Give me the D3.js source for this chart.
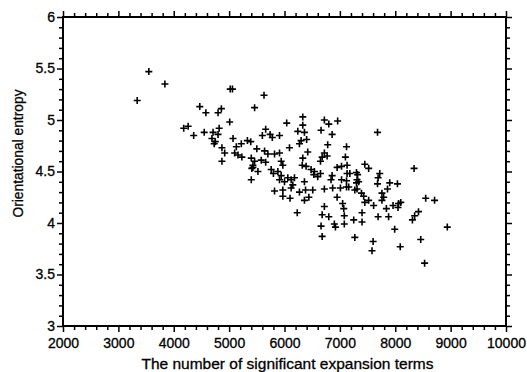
<!DOCTYPE html>
<html>
<head>
<meta charset="utf-8">
<script src="https://cdn.jsdelivr.net/npm/d3@7"></script>
<style>
  body { margin: 0; background: #fff; }
  svg { display: block; }
  text { font-family: "Liberation Sans", Arial, Helvetica, sans-serif; fill: #000; stroke: #000; stroke-width: 0.3px; }
</style>
</head>
<body>
<svg id="chart" width="527" height="372"></svg>
<script>
// Number of significant expansion terms for each sample
const expansionTerms = [
  3550, 3840, 3340, 5020, 5060, 4470, 4580, 4860, 4800, 5010, 5460, 4180, 4260, 4360, 4550, 4820,
  4710, 4800, 4690, 4750, 4730, 5070, 4870, 4920, 4870, 5130, 5220, 5330, 5100, 5160, 5230, 5400,
  5430, 5410, 5400, 5630,
  6330, 6330, 6040, 6720, 6800, 6960, 6860, 6660, 5660, 5600, 5740, 5780, 5910, 6240, 6360, 6300,
  6270, 6400, 5390, 6780, 6090, 6420, 5500, 5640, 5700, 5820, 5910, 7120, 7100, 6720, 6680, 6770,
  6650, 5460, 5580, 5660, 5940, 5970, 6330, 6320, 6390, 6480, 6540, 6650, 5430, 5520, 5760, 5800,
  5880, 5940, 5910, 6000, 6060, 6120, 6180, 6150, 6120, 6360, 6530, 6600, 6860, 6840, 6950, 7030,
  7130, 7130, 7030, 7120, 5820, 5970, 5970, 6100, 6270, 6380, 6510, 6440, 6360, 6720, 6870, 7010,
  7120, 6950, 7050, 7070, 6230, 6720, 6680, 6800, 6900, 6920, 7080, 7080, 6660, 6680,
  7680, 7180, 7300, 7320, 7310, 7340, 7300, 7160, 7270, 7310, 7450, 7520, 7720, 7690, 7680, 7900,
  8040, 7860, 7390, 7430, 7760, 7790, 7760, 7450, 7520, 7610, 7840, 7960, 8060, 8100, 8050, 7400,
  7400, 7250, 7690, 7880, 7270, 7600, 7580, 7990, 8090, 8340, 8550, 8710, 8420, 8350, 8310, 8460,
  8530, 8940
];

// Orientational entropy of the same samples
const orientationalEntropy = [
  5.47, 5.35, 5.19, 5.30, 5.30, 5.13, 5.07, 5.11, 5.07, 4.98, 5.12, 4.92, 4.94, 4.85, 4.88, 4.92,
  4.88, 4.86, 4.82, 4.79, 4.77, 4.82, 4.73, 4.68, 4.60, 4.74, 4.77, 4.80, 4.68, 4.66, 4.64, 4.63,
  4.56, 4.53, 4.42, 5.24,
  5.03, 4.95, 4.97, 5.00, 4.96, 4.99, 4.86, 4.90, 4.91, 4.85, 4.86, 4.83, 4.85, 4.89, 4.88, 4.80,
  4.77, 4.81, 4.79, 4.76, 4.73, 4.69, 4.72, 4.70, 4.67, 4.67, 4.68, 4.74, 4.64, 4.68, 4.64, 4.65,
  4.60, 4.60, 4.61, 4.59, 4.60, 4.56, 4.63, 4.56, 4.55, 4.52, 4.50, 4.48, 4.54, 4.50, 4.52, 4.48,
  4.50, 4.46, 4.42, 4.40, 4.44, 4.42, 4.44, 4.37, 4.34, 4.40, 4.47, 4.45, 4.46, 4.42, 4.54, 4.55,
  4.56, 4.48, 4.42, 4.41, 4.31, 4.32, 4.26, 4.24, 4.30, 4.32, 4.32, 4.25, 4.22, 4.33, 4.34, 4.34,
  4.35, 4.25, 4.19, 4.14, 4.10, 4.16, 4.08, 4.06, 3.99, 3.96, 4.07, 3.99, 3.97, 3.87,
  4.88, 4.48, 4.49, 4.47, 4.42, 4.40, 4.39, 4.35, 4.32, 4.33, 4.57, 4.53, 4.48, 4.44, 4.38, 4.39,
  4.38, 4.33, 4.29, 4.26, 4.29, 4.25, 4.22, 4.20, 4.22, 4.17, 4.14, 4.17, 4.19, 4.20, 4.15, 4.10,
  4.01, 4.03, 4.06, 4.06, 3.86, 3.82, 3.73, 3.94, 3.77, 4.53, 4.24, 4.22, 4.11, 4.07, 4.03, 3.84,
  3.61, 3.96
];

const xTickValues = [2000, 3000, 4000, 5000, 6000, 7000, 8000, 9000, 10000];
const yTickValues = [3, 3.5, 4, 4.5, 5, 5.5, 6];
const xMinorStep = 200;
const yMinorStep = 0.1;
const xTitle = "The number of significant expansion terms";
const yTitle = "Orientational entropy";

const svg = d3.select("#chart");
const plot = { left: 63, right: 506, top: 17, bottom: 326 };

const x = d3.scaleLinear().domain([2000, 10000]).range([plot.left, plot.right]);
const y = d3.scaleLinear().domain([3, 6]).range([plot.bottom, plot.top]);

const xMinor = d3.range(2000, 10000 + 1e-6, xMinorStep).filter(v => v % 1000 !== 0);
const yMinor = d3.range(3, 6 + 1e-6, yMinorStep)
  .map(v => Math.round(v * 10) / 10)
  .filter(v => Math.abs(v * 2 - Math.round(v * 2)) > 1e-6);

const majorLen = 6, minorLen = 4;

function styleAxis(g) {
  g.select(".domain").remove();
  g.selectAll(".tick line").attr("stroke", "#000").attr("stroke-width", 1.5);
  g.selectAll(".tick text").attr("font-size", 14).attr("fill", "#000");
}

// bottom axis: labelled majors + minors
svg.append("g").attr("transform", `translate(0,${plot.bottom})`)
  .call(d3.axisBottom(x).tickValues(xMinor).tickSize(minorLen).tickFormat(""))
  .call(styleAxis);
svg.append("g").attr("transform", `translate(0,${plot.bottom})`)
  .call(d3.axisBottom(x).tickValues(xTickValues).tickSize(majorLen).tickPadding(6).tickFormat(d3.format("d")))
  .call(styleAxis);

// top axis: ticks only
svg.append("g").attr("transform", `translate(0,${plot.top})`)
  .call(d3.axisTop(x).tickValues(xMinor).tickSize(minorLen).tickFormat(""))
  .call(styleAxis);
svg.append("g").attr("transform", `translate(0,${plot.top})`)
  .call(d3.axisTop(x).tickValues(xTickValues).tickSize(majorLen).tickFormat(""))
  .call(styleAxis);

// left axis: labelled majors + minors
svg.append("g").attr("transform", `translate(${plot.left},0)`)
  .call(d3.axisLeft(y).tickValues(yMinor).tickSize(minorLen).tickFormat(""))
  .call(styleAxis);
svg.append("g").attr("transform", `translate(${plot.left},0)`)
  .call(d3.axisLeft(y).tickValues(yTickValues).tickSize(majorLen).tickPadding(2).tickFormat(d3.format("~g")))
  .call(styleAxis);

// right axis: ticks only
svg.append("g").attr("transform", `translate(${plot.right},0)`)
  .call(d3.axisRight(y).tickValues(yMinor).tickSize(minorLen).tickFormat(""))
  .call(styleAxis);
svg.append("g").attr("transform", `translate(${plot.right},0)`)
  .call(d3.axisRight(y).tickValues(yTickValues).tickSize(majorLen).tickFormat(""))
  .call(styleAxis);

// plot frame
svg.append("rect")
  .attr("x", plot.left).attr("y", plot.top)
  .attr("width", plot.right - plot.left).attr("height", plot.bottom - plot.top)
  .attr("fill", "none").attr("stroke", "#000").attr("stroke-width", 2);

// scatter of "+" markers
const points = expansionTerms.map((t, i) => ({ t, e: orientationalEntropy[i] }));
svg.append("g").selectAll("path")
  .data(points)
  .join("path")
  .attr("transform", d => `translate(${x(d.t)},${y(d.e)})`)
  .attr("d", "M-3.5,0H3.5M0,-3.5V3.5")
  .attr("stroke", "#000")
  .attr("stroke-width", 1.6)
  .attr("fill", "none");

// axis titles
svg.append("text")
  .attr("x", 287.5).attr("y", 369)
  .attr("text-anchor", "middle")
  .attr("font-size", 15.5)
  .text(xTitle);

svg.append("text")
  .attr("transform", "translate(23,153.5) rotate(-90)")
  .attr("text-anchor", "middle")
  .attr("font-size", 13.8)
  .text(yTitle);
</script>
</body>
</html>
